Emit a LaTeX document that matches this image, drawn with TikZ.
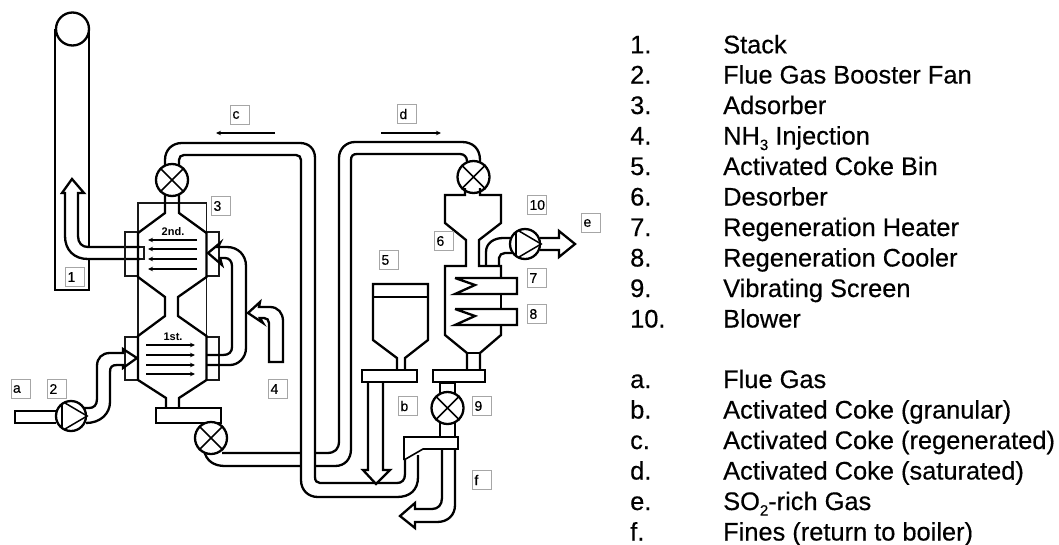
\documentclass[tikz,border=0pt]{standalone}
\usepackage{fontspec}
\setmainfont{Liberation Sans}
\newfontfamily\heavyfont[FakeBold=0.35]{Liberation Sans}
\usetikzlibrary{arrows.meta}
\newcommand{\subdigit}[1]{\raisebox{-0.22em}{\fontsize{15}{15}\selectfont #1}}
\tikzset{
  x=1pt,y=-1pt,
  plant/.style={line width=2.3pt,line join=miter,black},
  thinline/.style={line width=1.4pt,black!90},
  tag/.style={draw=black!35,line width=0.7pt,minimum height=19pt,inner sep=2pt,text width=15pt,align=left,fill=white,
     font=\heavyfont\fontsize{14}{14}\selectfont,text=black},
  legend/.style={anchor=base west,inner sep=0pt,font=\heavyfont\fontsize{25.4}{25.4}\selectfont,text=black},
  roundel/.style={circle,draw=black,line width=2.3pt,fill=white,inner sep=0pt},
  flowline/.style={line width=2pt,-{Stealth[length=5pt,width=4.5pt]},black},
  stage/.style={inner sep=0pt,font=\bfseries\fontsize{11}{11}\selectfont},
}
\newcommand{\valve}[3]{%
  \node[roundel,minimum size=32pt] (#1) at (#2,#3) {};
  \draw[plant,line width=1.7pt] (#1.45) -- (#1.225) (#1.135) -- (#1.315);}
\newcommand{\fan}[3]{%
  \node[roundel,minimum size=30pt] (#1) at (#2,#3) {};
  \draw[plant,line width=1.5pt] (#2-9,#3-11) -- (#2-9,#3+11);
  \draw[plant,line width=1.5pt] (#2-6,#3-13) -- (#1.east) -- (#2-6,#3+13);}
\begin{document}
\begin{tikzpicture}
\useasboundingbox (0,0) rectangle (1059,544);
\fill[white] (0,0) rectangle (1059,544);

% ---------- stack
\draw[plant] (55,29) -- (55,290) -- (89,290) -- (89,29);
\node[roundel,minimum size=33pt] (stacktop) at (72.5,29) {};
\path[fill=white] (145,247) -- (88,247) .. controls (82,247) and (78,243) .. (78,236) -- (78,193) -- (84,193) -- (72,179) -- (62,193) -- (65,193) -- (65,236) .. controls (65,250) and (74,259) .. (88,259) -- (145,259) -- cycle;
\draw[plant] (140,247) -- (88,247) .. controls (82,247) and (78,243) .. (78,236) -- (78,193) -- (84,193) -- (72,179) -- (62,193) -- (65,193) -- (65,236) .. controls (65,250) and (74,259) .. (88,259) -- (140,259);

% ---------- adsorber casing and flanges
\draw[thinline] (138,232) -- (138,203) -- (206.5,203) -- (206.5,232);
\draw[thinline] (138,277) -- (138,335) (206.5,277) -- (206.5,335);
\draw[thinline] (138,232) -- (125,232) -- (125,276) -- (138,276);
\draw[thinline] (206.5,232) -- (219,232) -- (219,276) -- (206.5,276);
\draw[thinline] (138,337) -- (125,337) -- (125,380) -- (138,380);
\draw[thinline] (206.5,337) -- (219,337) -- (219,380) -- (206.5,380);
\draw[thinline] (140,247) -- (144,247) -- (144,259) -- (140,259);
% adsorber vessel
\draw[plant] (165,195) -- (165,213) -- (138,233) -- (138,277) -- (165,297) -- (165,316) -- (138,336) -- (138,380) -- (166,398) -- (166,408);
\draw[plant] (179,195) -- (179,213) -- (206.5,233) -- (206.5,277) -- (178,297) -- (178,316) -- (206.5,336) -- (206.5,380) -- (179,398) -- (179,408);
\draw[plant,fill=white,line width=1.8pt] (156,408) rectangle (221,423);
\node[stage] (second) at (173,232) {2nd.};
\node[stage] (first) at (173,337) {1st.};
\foreach \yy in {240,249,259,269} \draw[flowline] (197,\yy) -- (148,\yy);
\foreach \yy in {345,355,365,374} \draw[flowline] (146,\yy) -- (195,\yy);

% ---------- pipe c (adsorber top to bottom loop)
\draw[plant] (165,168) -- (165,160) .. controls (165,150) and (172,143) .. (182,143) -- (300,143) .. controls (309,143) and (315,149) .. (315,158) -- (315,477) .. controls (315,481) and (317,483) .. (320,483) -- (397,483) .. controls (402,483) and (405,480) .. (405,474) -- (405,460);
\draw[plant] (179,168) -- (179,160) .. controls (179,157) and (181,155) .. (184,155) -- (296,155) .. controls (299,155) and (301,157) .. (301,160) -- (301,480) .. controls (301,490) and (308,497) .. (318,497) -- (397,497) .. controls (410,497) and (418,490) .. (418,477) -- (418,455);
\valve{vc}{172}{180}

% ---------- pipe d (adsorber bottom to desorber top)
\draw[plant] (222,453) -- (301,453) (315,453) -- (327,453) .. controls (335,453) and (339,449) .. (339,441) -- (339,158) .. controls (339,149) and (346,142) .. (355,142) -- (462,142) .. controls (473,142) and (480,149) .. (480,160) -- (480,168);
\draw[plant] (204,450) .. controls (206,461) and (214,466) .. (225,466) -- (301,466) (315,466) -- (335,466) .. controls (345,466) and (351,459) .. (351,449) -- (351,160) .. controls (351,156) and (353,154) .. (357,154) -- (460,154) .. controls (464,154) and (467,157) .. (467,161) -- (467,168);
\valve{vd}{473.5}{177}
\valve{vlow}{211}{438}

\draw[flowline] (275,133) -- (216,133);
\draw[flowline] (381,133) -- (441,133);

% ---------- recycle pipe
\draw[plant] (206,355) -- (223,355) .. controls (229,355) and (232,352) .. (232,347) -- (232,266) .. controls (232,261) and (229,258) .. (225,258) -- (220,258) -- (222,265) -- (208,253) -- (220,243) -- (218,247) -- (227,247) .. controls (238,247) and (246,255) .. (246,266) -- (246,348) .. controls (246,358) and (238,365) .. (230,365) -- (206,365);

% ---------- NH3 injection
\draw[plant] (269,362) -- (283,362) -- (283,321) .. controls (283,313) and (278,307) .. (270,307) -- (259,307) -- (260,302) -- (248,313) -- (263,323) -- (260,318) -- (264,318) .. controls (267,318) and (269,320) .. (269,323) -- cycle;

% ---------- inlet and fan
\draw[plant] (56,411) -- (15,411) -- (15,423) -- (56,423);
\draw[plant] (84,408) -- (89,408) .. controls (94,408) and (97,405) .. (97,399) -- (97,366) .. controls (97,358) and (102,353) .. (110,353) -- (123,353) -- (123,349) -- (137,358) -- (123,368) -- (123,365) -- (117,365) .. controls (112,365) and (110,367) .. (110,372) -- (110,402) .. controls (110,414) and (100,423) .. (86,423);
\fan{fanb}{71}{416}

% ---------- coke bin
\draw[plant] (428,297) -- (373,297);
\draw[plant] (397,370) -- (397,358) -- (373,340) -- (373,284) -- (428,284) -- (428,340) -- (405,358) -- (405,370);
\draw[plant,fill=white,line width=1.8pt] (362,370) rectangle (417,382);
\draw[plant] (368,382) -- (368,470) -- (363,470) -- (376,484) -- (390,470) -- (383,470) -- (383,382);

% ---------- desorber
\draw[plant] (465,188) -- (465,195) -- (445,195) -- (445,223) -- (466,240) -- (466,266) -- (445,266) -- (445,335) -- (467,353) -- (467,369);
\draw[plant] (480,188) -- (480,195) -- (501,195) -- (501,223) -- (479,240) -- (479,266) -- (501,266) -- (501,278);
\draw[plant] (501,294) -- (501,309);
\draw[plant] (501,325) -- (501,335) -- (480,353) -- (480,369);
\draw[plant] (467,353) -- (480,353);
\draw[plant] (455,278) -- (517,278) -- (517,294) -- (455,294) -- (475,285) -- (455,278);
\draw[plant] (455,309) -- (517,309) -- (517,325) -- (455,325) -- (475,316) -- (455,309);
\draw[plant,line width=2.8pt] (455,325) -- (517,325);
\draw[plant,fill=white,line width=1.8pt] (433,370) rectangle (485,382);
% blower pipe
\draw[plant] (486,266) -- (486,252) .. controls (486,243) and (494,238) .. (503,238) -- (512,238);
\draw[plant] (499,266) -- (499,258) .. controls (499,255) and (502,253) .. (505,253) -- (512,253);
\fan{fanc}{525}{244}
\draw[plant] (540,238) -- (559,238) -- (559,231) -- (575,244) -- (559,257) -- (559,250) -- (540,250);

% ---------- below desorber: screen and fines
\draw[plant] (440,382) -- (440,437) (455,382) -- (455,437);
\draw[plant,line width=3pt] (440,382) -- (455,382);
\valve{vs}{447.5}{408}
\draw[plant,line width=1.6pt] (404,460) -- (404,437) -- (458,437) -- (458,449) -- (423,449) -- (404,460);
\draw[plant] (442,449) -- (442,498) .. controls (442,505) and (438,509) .. (432,509) -- (415,509) -- (415,503) -- (400,516) -- (415,528) -- (415,522) -- (437,522) .. controls (448,522) and (455,515) .. (455,505) -- (455,449);

% ---------- tags
\node[tag] (tc) at (240,115) {c};
\node[tag] (t3) at (221,206) {3};
\node[tag] (t1) at (75,277) {1};
\node[tag] (ta) at (20.5,389) {a};
\node[tag] (t2) at (57,389) {2};
\node[tag] (t4) at (278,389) {4};
\node[tag] (td) at (407,114) {d};
\node[tag] (t10) at (537,205) {10};
\node[tag] (te) at (591,223) {e};
\node[tag] (t6) at (444,241) {6};
\node[tag] (t5) at (389,260) {5};
\node[tag] (t7) at (537,278) {7};
\node[tag] (t8) at (537,314) {8};
\node[tag] (tb) at (408,406) {b};
\node[tag] (t9) at (482,406) {9};
\node[tag] (tf) at (482,480) {f};

% ---------- legend
\node[legend] (n1) at (630,53.3) {1.};
\node[legend] (l1) at (723,53.3) {Stack};
\node[legend] (n2) at (630,83.5) {2.};
\node[legend] (l2) at (723,83.5) {Flue Gas Booster Fan};
\node[legend] (n3) at (630,114) {3.};
\node[legend] (l3) at (723,114) {Adsorber};
\node[legend] (n4) at (630,144.5) {4.};
\node[legend] (l4) at (723,144.5) {NH\subdigit{3} Injection};
\node[legend] (n5) at (630,175) {5.};
\node[legend] (l5) at (723,175) {Activated Coke Bin};
\node[legend] (n6) at (630,205.5) {6.};
\node[legend] (l6) at (723,205.5) {Desorber};
\node[legend] (n7) at (630,236) {7.};
\node[legend] (l7) at (723,236) {Regeneration Heater};
\node[legend] (n8) at (630,266.5) {8.};
\node[legend] (l8) at (723,266.5) {Regeneration Cooler};
\node[legend] (n9) at (630,297) {9.};
\node[legend] (l9) at (723,297) {Vibrating Screen};
\node[legend] (n10) at (630,327.5) {10.};
\node[legend] (l10) at (723,327.5) {Blower};
\node[legend] (na) at (630,388) {a.};
\node[legend] (la) at (723,388) {Flue Gas};
\node[legend] (nb) at (630,418.5) {b.};
\node[legend] (lb) at (723,418.5) {Activated Coke (granular)};
\node[legend] (nc) at (630,449) {c.};
\node[legend] (lc) at (723,449) {Activated Coke (regenerated)};
\node[legend] (nd) at (630,479.5) {d.};
\node[legend] (ld) at (723,479.5) {Activated Coke (saturated)};
\node[legend] (ne) at (630,510) {e.};
\node[legend] (le) at (723,510) {SO\subdigit{2}-rich Gas};
\node[legend] (nf) at (630,540.5) {f.};
\node[legend] (lf) at (723,540.5) {Fines (return to boiler)};
\end{tikzpicture}
\end{document}
